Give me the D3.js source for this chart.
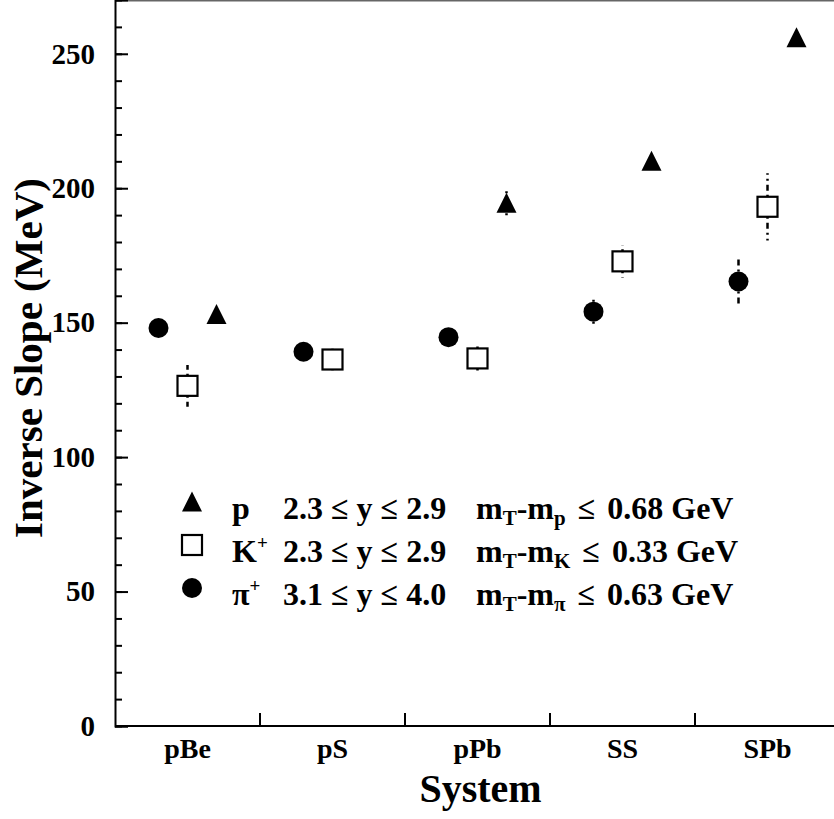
<!DOCTYPE html>
<html>
<head>
<meta charset="utf-8">
<script src="https://cdn.jsdelivr.net/npm/d3@7"></script>
<style>
  body { margin: 0; background: #fff; }
  svg { display: block; }
  text, tspan { font-family: "Liberation Serif", "Times New Roman", serif; font-weight: bold; fill: #000; }
</style>
</head>
<body>
<svg id="chart" width="834" height="819"></svg>
<script>
// collision systems on the x axis
const systems = ["pBe", "pS", "pPb", "SS", "SPb"];

// inverse slopes (MeV) and their errors
const pionSlope = [148, 139.2, 144.6, 154.1, 165.3];
const pionErr = [3, 3, 3, 4.6, 8.3];
const kaonSlope = [126.5, 136.3, 136.7, 172.8, 193.1];
const kaonErr = [7.8, 4, 5.8, 6.1, 12.5];
const protonSlope = [153, null, 194.4, 210, 256];
const protonErr = [2, null, 5.4, 2, 2];

const yMajorTicks = [0, 50, 100, 150, 200, 250];

// legend rows
const legendSpecies = ["p", "K", "π"];
const legendSup = ["", "+", "+"];
const legendRange = ["2.3 ≤ y ≤ 2.9", "2.3 ≤ y ≤ 2.9", "3.1 ≤ y ≤ 4.0"];
const legendSub = ["p", "K", "π"];
const legendCut = ["0.68", "0.33", "0.63"];

const W = 834, H = 819;
const plot = { left: 115, right: 840, top: 0, bottom: 726 };

const svg = d3.select("#chart");

const x = d3.scaleBand().domain(systems).range([plot.left, plot.right]).padding(0);
// sub-position of each species inside a system band
const xOff = d3.scalePoint().domain(["pi", "K", "p"]).range([-29, 29]);
const y = d3.scaleLinear().domain([0, 270]).range([plot.bottom, plot.top]);

// markers
function drawMarker(g, kind, cx, cy) {
  if (kind === "pi") {
    g.append("circle").attr("cx", cx).attr("cy", cy).attr("r", 10).attr("fill", "#000");
  } else if (kind === "K") {
    g.append("rect")
      .attr("x", cx - 10).attr("y", cy - 10)
      .attr("width", 20).attr("height", 20)
      .attr("fill", "#fff").attr("stroke", "#000").attr("stroke-width", 2.2);
  } else {
    const p = d3.path();
    p.moveTo(cx, cy - 10.5);
    p.lineTo(cx + 10, cy + 9.5);
    p.lineTo(cx - 10, cy + 9.5);
    p.closePath();
    g.append("path").attr("d", p.toString()).attr("fill", "#000");
  }
}

const series = [
  { kind: "pi", vals: pionSlope, errs: pionErr },
  { kind: "K", vals: kaonSlope, errs: kaonErr },
  { kind: "p", vals: protonSlope, errs: protonErr },
];

// axes frame
svg.append("line")
  .attr("x1", plot.left).attr("x2", W).attr("y1", 0).attr("y2", 0)
  .attr("stroke", "#666").attr("stroke-width", 3);

// y axis: minor ticks every 10, major every 50, ticks pointing inward
const yMinor = d3.axisLeft(y).tickValues(d3.range(0, 271, 10)).tickSize(-7).tickFormat("");
svg.append("g").attr("transform", `translate(${plot.left},0)`).call(yMinor)
  .call(g => g.select(".domain").remove())
  .selectAll("line").attr("stroke", "#000").attr("stroke-width", 2);

const yAxis = d3.axisLeft(y).tickValues(yMajorTicks).tickSize(-13).tickPadding(20);
svg.append("g").attr("transform", `translate(${plot.left},0)`).call(yAxis)
  .call(g => g.select(".domain").attr("stroke-width", 2))
  .call(g => g.selectAll("line").attr("stroke-width", 2))
  .call(g => g.selectAll("text")
    .attr("font-size", 29)
    .attr("font-family", "Liberation Serif, serif")
    .attr("font-weight", "bold"));

// x axis: labels in band centres, ticks at band boundaries
const xAxis = d3.axisBottom(x).tickSize(0).tickPadding(12);
svg.append("g").attr("transform", `translate(0,${plot.bottom})`).call(xAxis)
  .call(g => g.select(".domain").attr("d", `M${plot.left},0H${plot.right}`).attr("stroke-width", 2))
  .call(g => g.selectAll("text")
    .attr("font-size", 28)
    .attr("font-family", "Liberation Serif, serif")
    .attr("font-weight", "bold"));

svg.append("g").selectAll("line")
  .data(systems.slice(1))
  .join("line")
  .attr("x1", d => x(d)).attr("x2", d => x(d))
  .attr("y1", plot.bottom).attr("y2", plot.bottom - 13)
  .attr("stroke", "#000").attr("stroke-width", 2);

// axis titles
svg.append("text")
  .attr("x", (plot.left + W) / 2 + 6).attr("y", 802)
  .attr("text-anchor", "middle").attr("font-size", 40)
  .text("System");

svg.append("text")
  .attr("transform", "translate(42,358) rotate(-90)")
  .attr("text-anchor", "middle").attr("font-size", 41)
  .text("Inverse Slope (MeV)");

// error bars, then markers
const dataLayer = svg.append("g");
series.forEach(s => {
  systems.forEach((sys, i) => {
    const v = s.vals[i];
    if (v == null) return;
    const cx = x(sys) + x.bandwidth() / 2 + xOff(s.kind);
    const e = s.errs[i];
    [v + e, v - e].forEach(end => {
      dataLayer.append("line")
        .attr("x1", cx).attr("x2", cx)
        .attr("y1", y(v)).attr("y2", y(end))
        .attr("stroke", "#000").attr("stroke-width", 2.5)
        .attr("stroke-dasharray", "6,4,2,4");
    });
  });
});
series.forEach(s => {
  systems.forEach((sys, i) => {
    const v = s.vals[i];
    if (v == null) return;
    const cx = x(sys) + x.bandwidth() / 2 + xOff(s.kind);
    drawMarker(dataLayer, s.kind, cx, y(v));
  });
});

// legend
const legend = svg.append("g");
const legendKinds = ["p", "K", "pi"];
legendKinds.forEach((kind, i) => {
  const base = 519 + i * 43;
  drawMarker(legend, kind, 192, base - 17);

  const sp = legend.append("text").attr("x", 232).attr("y", base).attr("font-size", 32);
  sp.append("tspan").text(legendSpecies[i]);
  if (legendSup[i]) {
    sp.append("tspan").attr("font-size", 19).attr("dy", -13).text(legendSup[i]);
  }

  legend.append("text").attr("x", 283).attr("y", base)
    .attr("font-size", 32)
    .text(legendRange[i]);

  const mt = legend.append("text").attr("x", 476).attr("y", base).attr("font-size", 32);
  mt.append("tspan").text("m");
  mt.append("tspan").attr("font-size", 21).attr("dy", 6).text("T");
  mt.append("tspan").attr("dy", -6).text("-m");
  mt.append("tspan").attr("font-size", 21).attr("dy", 6).text(legendSub[i]);
  mt.append("tspan").attr("dy", -6).attr("dx", 4).text(" ≤ ");
  mt.append("tspan").attr("dx", 4).text(legendCut[i] + " GeV");
});
</script>
</body>
</html>
